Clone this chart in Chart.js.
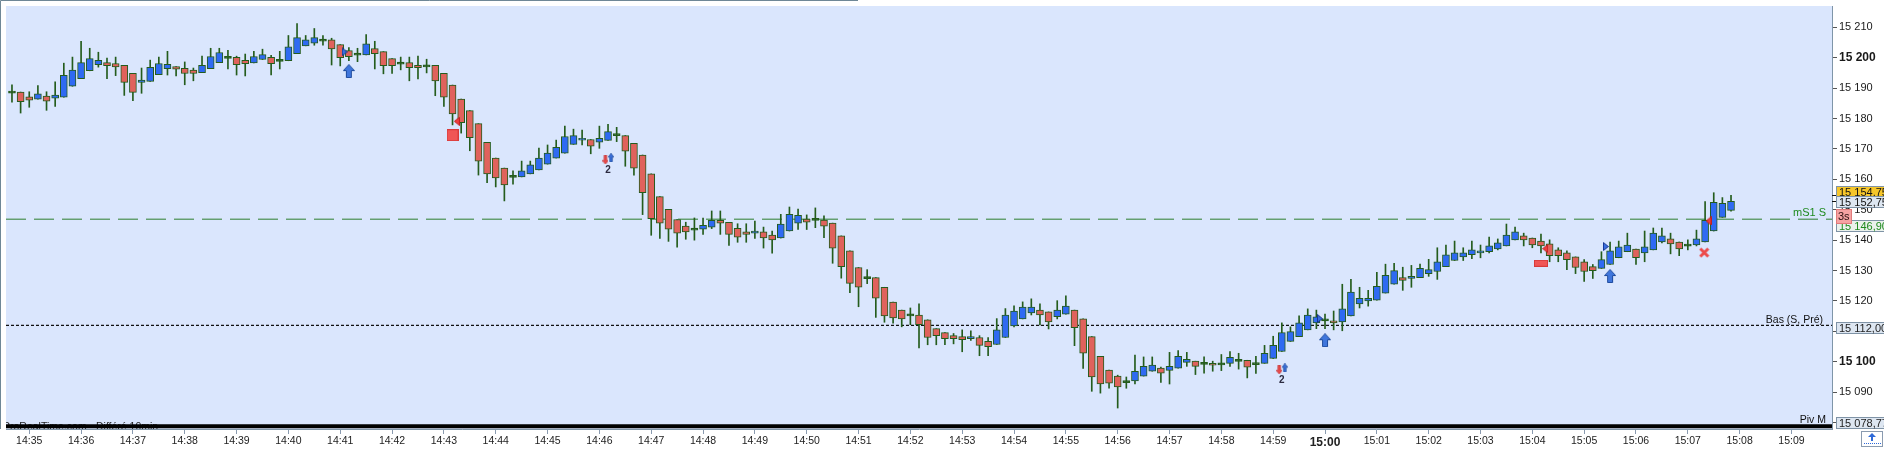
<!DOCTYPE html>
<html>
<head>
<meta charset="utf-8">
<script src="https://cdn.jsdelivr.net/npm/chart.js@4.4.1/dist/chart.umd.min.js"></script>
<style>
    html, body { margin: 0; padding: 0; background: #fff; overflow: hidden; }
    #wrap { width: 1884px; height: 449px; }
</style>
</head>
<body>
<div id="wrap"><canvas id="chart"></canvas></div>
<script>
// 10 second candles, first one at 14:34:40
const opens = [
    15188.7, 15188.7, 15187.1, 15186.4, 15187.4, 15186.7, 15187.0, 15190.6, 15193.1, 15195.7,
    15197.7, 15198.4, 15198.1, 15197.5, 15194.9, 15191.9, 15192.2, 15194.4, 15196.4, 15197.1,
    15196.5, 15195.9, 15195.1, 15196.4, 15198.4, 15200.1, 15200.1, 15199.1, 15198.3, 15199.4,
    15200.1, 15199.1, 15199.0, 15201.3, 15203.9, 15204.8, 15205.6, 15205.9, 15204.3, 15202.3,
    15200.9, 15200.9, 15203.0, 15202.0, 15199.7, 15198.2, 15198.4, 15197.5, 15197.3, 15197.5,
    15194.9, 15191.0, 15186.4, 15182.6, 15178.3, 15172.2, 15167.0, 15163.7, 15161.0, 15160.8,
    15161.8, 15163.1, 15165.0, 15167.0, 15168.6, 15171.5, 15172.9, 15173.1, 15172.2, 15172.8,
    15174.7, 15174.4, 15171.8, 15168.0, 15161.8, 15154.3, 15150.1, 15146.8, 15144.6, 15143.6,
    15143.6, 15144.3, 15146.5, 15145.9, 15143.9, 15142.7, 15142.3, 15142.7, 15141.7, 15140.7,
    15143.0, 15145.6, 15146.9, 15146.8, 15146.6, 15145.6, 15141.4, 15136.5, 15131.0, 15127.7,
    15127.7, 15124.5, 15119.6, 15117.0, 15115.4, 15115.4, 15113.8, 15110.9, 15109.6, 15108.6,
    15108.3, 15107.6, 15108.0, 15106.7, 15105.7, 15108.0, 15111.8, 15114.1, 15116.1, 15117.0,
    15116.4, 15114.8, 15115.7, 15117.0, 15114.1, 15108.3, 15101.8, 15097.3, 15095.3, 15093.5,
    15093.7, 15095.3, 15096.9, 15097.9, 15097.2, 15097.9, 15099.8, 15100.2, 15099.5, 15099.5,
    15099.3, 15099.5, 15100.5, 15100.5, 15099.4, 15099.5, 15101.1, 15103.4, 15106.7, 15108.3,
    15110.5, 15112.8, 15113.8, 15113.5, 15113.1, 15115.1, 15119.0, 15120.0, 15120.3, 15122.6,
    15125.5, 15127.7, 15127.4, 15127.7, 15129.0, 15129.7, 15131.3, 15133.3, 15134.5, 15135.2,
    15135.8, 15136.2, 15137.1, 15138.1, 15140.1, 15141.4, 15140.7, 15139.7, 15138.8, 15136.8,
    15135.8, 15134.5, 15132.9, 15131.3, 15130.7, 15132.0, 15134.2, 15136.2, 15137.1, 15135.8,
    15136.8, 15139.4, 15140.4, 15139.4, 15138.4, 15138.4, 15139.4, 15143.0, 15147.5, 15149.8
];
const highs = [
    15191.1, 15188.7, 15188.8, 15190.8, 15188.8, 15192.1, 15198.2, 15200.2, 15205.4, 15203.1,
    15201.8, 15199.9, 15200.2, 15197.5, 15194.9, 15196.6, 15199.2, 15200.2, 15202.1, 15197.1,
    15198.6, 15196.6, 15200.5, 15203.1, 15203.1, 15202.4, 15200.5, 15201.2, 15202.1, 15202.8,
    15200.8, 15202.1, 15207.3, 15211.2, 15207.3, 15209.6, 15207.3, 15206.4, 15204.3, 15203.3,
    15203.1, 15207.6, 15205.4, 15202.0, 15199.7, 15200.2, 15200.2, 15200.5, 15199.5, 15197.5,
    15194.9, 15191.0, 15186.4, 15182.6, 15178.3, 15172.2, 15167.0, 15163.7, 15162.8, 15166.0,
    15166.0, 15170.3, 15171.3, 15172.9, 15177.5, 15176.5, 15176.2, 15173.1, 15177.5, 15178.1,
    15177.1, 15174.4, 15171.8, 15168.0, 15161.8, 15154.3, 15150.1, 15146.8, 15145.9, 15147.3,
    15147.3, 15149.6, 15149.6, 15145.9, 15145.4, 15145.4, 15146.3, 15144.3, 15143.0, 15148.5,
    15150.9, 15150.2, 15148.3, 15150.6, 15148.0, 15145.6, 15141.4, 15136.5, 15131.0, 15130.3,
    15127.7, 15124.5, 15119.6, 15117.0, 15117.7, 15119.1, 15113.8, 15110.9, 15109.6, 15109.3,
    15110.5, 15110.2, 15108.6, 15108.0, 15114.2, 15117.5, 15118.4, 15119.7, 15120.7, 15119.1,
    15116.4, 15120.1, 15121.7, 15117.0, 15114.1, 15108.3, 15101.8, 15097.3, 15095.6, 15095.0,
    15102.2, 15101.6, 15101.6, 15098.3, 15103.1, 15103.7, 15103.1, 15100.2, 15101.6, 15100.2,
    15102.4, 15103.4, 15102.8, 15100.5, 15101.8, 15105.4, 15108.4, 15112.8, 15111.5, 15115.1,
    15117.4, 15117.0, 15115.7, 15116.7, 15125.5, 15127.1, 15124.5, 15123.5, 15129.4, 15132.1,
    15132.4, 15131.1, 15131.7, 15132.1, 15133.7, 15137.5, 15138.4, 15139.7, 15137.5, 15139.7,
    15138.4, 15141.0, 15140.4, 15145.3, 15144.3, 15142.3, 15140.7, 15142.0, 15140.1, 15137.5,
    15136.5, 15134.5, 15133.6, 15132.0, 15136.2, 15139.4, 15139.7, 15142.3, 15137.1, 15143.0,
    15144.0, 15144.0, 15142.3, 15139.4, 15140.1, 15143.3, 15152.7, 15155.6, 15154.0, 15154.75
];
const lows = [
    15185.4, 15181.8, 15183.7, 15186.4, 15182.7, 15184.0, 15187.0, 15190.6, 15193.1, 15195.7,
    15196.9, 15193.1, 15194.1, 15187.6, 15185.9, 15188.3, 15192.2, 15194.4, 15194.3, 15194.0,
    15191.1, 15192.4, 15195.1, 15196.4, 15198.4, 15196.3, 15194.3, 15194.0, 15198.3, 15199.4,
    15194.3, 15196.3, 15199.0, 15201.3, 15203.9, 15204.1, 15204.1, 15197.6, 15197.3, 15199.0,
    15198.7, 15200.9, 15196.3, 15194.7, 15194.8, 15196.0, 15192.4, 15193.0, 15195.0, 15187.5,
    15184.0, 15177.9, 15175.2, 15169.4, 15161.4, 15158.9, 15157.5, 15152.9, 15158.4, 15160.8,
    15161.8, 15163.1, 15165.0, 15167.0, 15168.6, 15171.5, 15171.3, 15168.4, 15170.2, 15172.8,
    15172.4, 15164.3, 15161.4, 15148.4, 15141.6, 15140.6, 15139.6, 15137.7, 15140.3, 15140.0,
    15141.9, 15143.8, 15141.9, 15138.3, 15139.3, 15139.3, 15140.6, 15137.4, 15135.7, 15140.7,
    15143.0, 15143.5, 15143.5, 15144.1, 15140.8, 15132.4, 15127.5, 15122.7, 15118.1, 15125.7,
    15114.6, 15113.0, 15112.7, 15111.5, 15112.2, 15104.6, 15105.6, 15105.6, 15105.6, 15105.9,
    15103.3, 15107.0, 15102.0, 15102.0, 15105.7, 15108.0, 15111.5, 15114.1, 15115.4, 15112.1,
    15110.8, 15114.1, 15115.7, 15105.3, 15097.8, 15090.3, 15089.7, 15091.3, 15084.8, 15091.3,
    15092.7, 15095.3, 15096.9, 15093.2, 15092.7, 15097.9, 15098.5, 15095.8, 15096.3, 15096.9,
    15097.1, 15098.5, 15097.6, 15094.7, 15096.2, 15099.5, 15101.1, 15103.4, 15106.7, 15108.3,
    15110.5, 15110.9, 15110.9, 15110.5, 15110.2, 15115.1, 15117.7, 15118.3, 15120.3, 15122.6,
    15125.5, 15123.5, 15124.5, 15127.7, 15128.1, 15127.1, 15131.3, 15133.3, 15133.3, 15133.9,
    15134.2, 15135.8, 15136.8, 15138.1, 15140.1, 15138.1, 15137.5, 15135.8, 15132.9, 15132.9,
    15130.3, 15129.0, 15126.4, 15127.4, 15130.7, 15132.0, 15134.2, 15136.2, 15132.0, 15132.9,
    15136.8, 15139.1, 15135.5, 15134.9, 15136.8, 15138.1, 15139.4, 15143.0, 15147.5, 15149.5
];
const closes = [
    15188.7, 15185.5, 15186.0, 15188.1, 15185.7, 15187.7, 15194.2, 15195.9, 15198.4, 15199.7,
    15199.1, 15197.4, 15197.0, 15191.9, 15188.6, 15192.6, 15196.8, 15198.1, 15197.8, 15196.2,
    15194.8, 15194.8, 15197.5, 15200.4, 15201.7, 15200.1, 15197.7, 15198.0, 15200.4, 15201.0,
    15198.0, 15199.1, 15203.6, 15206.6, 15205.9, 15206.6, 15205.9, 15202.9, 15200.0, 15200.3,
    15201.4, 15204.6, 15201.3, 15197.4, 15197.4, 15198.2, 15196.7, 15196.7, 15197.3, 15192.4,
    15187.0, 15181.5, 15178.6, 15173.7, 15166.0, 15161.8, 15160.5, 15158.2, 15161.0, 15162.8,
    15164.8, 15167.0, 15168.6, 15170.5, 15174.1, 15174.4, 15173.5, 15170.9, 15173.5, 15175.7,
    15174.7, 15169.3, 15163.7, 15155.6, 15147.1, 15145.6, 15143.6, 15142.3, 15142.7, 15143.6,
    15144.9, 15146.5, 15145.6, 15141.9, 15141.0, 15141.9, 15143.0, 15140.7, 15140.1, 15145.3,
    15148.5, 15148.2, 15145.9, 15146.8, 15144.6, 15137.4, 15131.3, 15125.8, 15124.5, 15127.7,
    15120.9, 15115.1, 15114.4, 15114.1, 15115.4, 15112.2, 15108.0, 15108.6, 15107.6, 15107.6,
    15107.3, 15108.3, 15105.4, 15105.0, 15110.5, 15115.4, 15116.7, 15118.0, 15118.0, 15115.4,
    15113.1, 15117.0, 15118.3, 15111.2, 15102.8, 15095.0, 15092.7, 15093.0, 15091.7, 15093.5,
    15096.9, 15098.5, 15098.9, 15096.3, 15098.5, 15101.8, 15100.8, 15098.5, 15099.5, 15098.9,
    15099.3, 15101.5, 15100.5, 15098.2, 15099.4, 15102.8, 15105.4, 15109.6, 15109.9, 15112.8,
    15115.4, 15114.8, 15113.8, 15112.8, 15117.4, 15122.9, 15120.9, 15120.9, 15124.8, 15128.4,
    15130.0, 15126.8, 15128.1, 15130.7, 15130.3, 15132.9, 15135.2, 15135.8, 15135.8, 15136.8,
    15136.5, 15138.1, 15139.1, 15141.7, 15142.7, 15140.1, 15138.4, 15138.1, 15134.9, 15134.9,
    15133.6, 15131.0, 15129.7, 15130.0, 15133.6, 15136.5, 15137.8, 15138.4, 15134.2, 15137.8,
    15142.3, 15141.4, 15138.8, 15137.1, 15138.4, 15140.4, 15146.5, 15152.4, 15152.1, 15152.75
];

const tickLabels = [
    '14:35', '14:36', '14:37', '14:38', '14:39', '14:40', '14:41', '14:42', '14:43', '14:44',
    '14:45', '14:46', '14:47', '14:48', '14:49', '14:50', '14:51', '14:52', '14:53', '14:54',
    '14:55', '14:56', '14:57', '14:58', '14:59', '15:00', '15:01', '15:02', '15:03', '15:04',
    '15:05', '15:06', '15:07', '15:08', '15:09'
];
const firstTickIndex = 2;      // candle of 14:35:00
const candlesPerMinute = 6;

// horizontal levels
const levelNames = ['mS1 S', 'Bas (S, Pré)', 'Piv M'];
const levelValues = [15146.90, 15112.00, 15078.77];

// right axis price tags
const tagTexts = ['15 154,75', '15 152,75', '15 146,90', '15 112,00', '15 078,77'];
const tagValues = [15154.75, 15152.75, 15146.90, 15112.00, 15078.77];

// signals (candle index, price)
const bigUpArrows = [{x: 39.0, y: 15195.6}, {x: 152.0, y: 15107.1}, {x: 185.0, y: 15128.2}];
const smallDownArrows = [{x: 68.7, y: 15166.4}, {x: 146.7, y: 15097.4}];
const smallUpArrows = [{x: 69.35, y: 15167.1}, {x: 147.35, y: 15098.0}];
const countMarks = [{x: 69.0, y: 15162.9}, {x: 147.0, y: 15093.8}];
const rightTriangles = [{x: 38.5, y: 15201.9}, {x: 151.4, y: 15114.2}, {x: 184.5, y: 15137.9}];
const leftTriangles = [{x: 51.5, y: 15179.1}, {x: 177.5, y: 15137.2}, {x: 196.4, y: 15146.3}];
const exitSquares = [{x: 51.0, y: 15174.5}];
const exitBars = [{x: 177.0, y: 15132.4}];
const exitCrosses = [{x: 195.9, y: 15135.9}];

const xMin = -0.692;
const xMax = 210.69;
const yMin = 15077.9;
const yMax = 15217.0;

const UP = '#2f6af2';
const DOWN = '#e0625c';
const EDGE = '#245c1c';
const FONT = '"Liberation Sans", Arial, Helvetica, sans-serif';

Chart.defaults.font.family = FONT;

function fmtPrice(v) {
    const s = String(Math.round(v));
    return s.slice(0, 2) + ' ' + s.slice(2);
}

function icon(w, h, draw) {
    const c = document.createElement('canvas');
    c.width = w;
    c.height = h;
    draw(c.getContext('2d'));
    return c;
}

const bigUpIcon = icon(12, 14, g => {
    g.beginPath();
    g.moveTo(6, 0.5); g.lineTo(11.5, 6.5); g.lineTo(8.5, 6.5); g.lineTo(8.5, 13.5);
    g.lineTo(3.5, 13.5); g.lineTo(3.5, 6.5); g.lineTo(0.5, 6.5); g.closePath();
    g.fillStyle = '#3f76dc'; g.fill();
    g.strokeStyle = '#1d4a9c'; g.lineWidth = 1; g.stroke();
});
const smallUpIcon = icon(6, 9, g => {
    g.beginPath();
    g.moveTo(3, 0.3); g.lineTo(5.8, 3.8); g.lineTo(4.2, 3.8); g.lineTo(4.2, 8.7);
    g.lineTo(1.8, 8.7); g.lineTo(1.8, 3.8); g.lineTo(0.2, 3.8); g.closePath();
    g.fillStyle = '#3a70dc'; g.fill();
    g.strokeStyle = '#1d4a9c'; g.lineWidth = 0.8; g.stroke();
});
const smallDownIcon = icon(6, 9, g => {
    g.beginPath();
    g.moveTo(3, 8.7); g.lineTo(5.8, 5.2); g.lineTo(4.2, 5.2); g.lineTo(4.2, 0.3);
    g.lineTo(1.8, 0.3); g.lineTo(1.8, 5.2); g.lineTo(0.2, 5.2); g.closePath();
    g.fillStyle = '#ec4b4b'; g.fill();
    g.strokeStyle = '#c42c2c'; g.lineWidth = 0.8; g.stroke();
});
const rightTriIcon = icon(6, 9, g => {
    g.beginPath();
    g.moveTo(0.5, 0.5); g.lineTo(5.5, 4.5); g.lineTo(0.5, 8.5); g.closePath();
    g.fillStyle = '#3a6fe0'; g.fill();
    g.strokeStyle = '#102f8a'; g.lineWidth = 1; g.stroke();
});
const leftTriIcon = icon(6, 9, g => {
    g.beginPath();
    g.moveTo(5.5, 0.5); g.lineTo(0.5, 4.5); g.lineTo(5.5, 8.5); g.closePath();
    g.fillStyle = '#f03c3c'; g.fill();
    g.strokeStyle = '#c02020'; g.lineWidth = 1; g.stroke();
});
const squareIcon = icon(12, 12, g => {
    g.fillStyle = '#f05656'; g.fillRect(0.5, 0.5, 11, 11);
    g.strokeStyle = '#d83a3a'; g.lineWidth = 1; g.strokeRect(0.5, 0.5, 11, 11);
});
const barIcon = icon(14, 7, g => {
    g.fillStyle = '#f05656'; g.fillRect(0.5, 0.5, 13, 6);
    g.strokeStyle = '#d83a3a'; g.lineWidth = 1; g.strokeRect(0.5, 0.5, 13, 6);
});
const crossIcon = icon(11, 11, g => {
    g.strokeStyle = '#ec4a4a'; g.lineWidth = 3;
    g.beginPath();
    g.moveTo(1.5, 1.5); g.lineTo(9.5, 9.5);
    g.moveTo(9.5, 1.5); g.lineTo(1.5, 9.5);
    g.stroke();
});

const wickData = highs.map((h, i) => ({x: i, y: [lows[i], h]}));
const bodyData = opens.map((o, i) => {
    const c = closes[i];
    if (Math.abs(o - c) < 0.55) {
        const m = (o + c) / 2;
        return {x: i, y: [m - 0.35, m + 0.35]};
    }
    return {x: i, y: [Math.min(o, c), Math.max(o, c)]};
});
const bodyColors = opens.map((o, i) => {
    const c = closes[i];
    if (Math.abs(o - c) < 0.55) return EDGE;
    return c > o ? UP : DOWN;
});

function levelLine(v, color, width, dash) {
    return {
        type: 'line',
        data: [{x: xMin, y: v}, {x: xMax, y: v}],
        borderColor: color,
        borderWidth: width,
        borderDash: dash,
        pointRadius: 0,
        order: 5
    };
}

function markerSet(points, img) {
    return {
        type: 'line',
        data: points,
        showLine: false,
        pointStyle: img,
        pointRadius: 5,
        order: 0
    };
}

const decor = {
    id: 'decor',
    beforeDraw(chart) {
        const {ctx, chartArea: a} = chart;
        ctx.save();
        ctx.fillStyle = '#ffffff';
        ctx.fillRect(0, 0, chart.width, chart.height);
        ctx.fillStyle = '#dae6fd';
        ctx.fillRect(a.left, a.top, a.right - a.left, a.bottom - a.top);
        ctx.restore();
    },
    beforeDatasetsDraw(chart) {
        const {ctx, chartArea: a} = chart;
        ctx.save();
        ctx.beginPath();
        ctx.rect(a.left, a.top, a.right - a.left, a.bottom - a.top);
        ctx.clip();
        ctx.font = '10.5px ' + FONT;
        ctx.fillStyle = '#1e1e1e';
        ctx.textBaseline = 'alphabetic';
        ctx.fillText('ProRealTime.com - Différé 10min', 3, 430);
        ctx.restore();
    },
    afterDatasetsDraw(chart) {
        const {ctx, chartArea: a, scales: {x, y}} = chart;
        ctx.save();
        ctx.textAlign = 'right';
        ctx.textBaseline = 'alphabetic';
        ctx.font = '11px ' + FONT;
        ctx.fillStyle = '#1f8a1f';
        ctx.fillText(levelNames[0], a.right - 6, y.getPixelForValue(levelValues[0]) - 3);
        ctx.fillStyle = '#111';
        ctx.font = '10.5px ' + FONT;
        ctx.fillText(levelNames[1], a.right - 9, y.getPixelForValue(levelValues[1]) - 2);
        ctx.fillText(levelNames[2], a.right - 6, y.getPixelForValue(levelValues[2]) - 3);

        ctx.textAlign = 'center';
        ctx.textBaseline = 'middle';
        ctx.font = 'bold 10px ' + FONT;
        ctx.fillStyle = '#2b2b40';
        for (const m of countMarks) {
            ctx.fillText('2', x.getPixelForValue(m.x), y.getPixelForValue(m.y));
        }
        ctx.restore();
    },
    afterDraw(chart) {
        const {ctx, chartArea: a, scales: {y}} = chart;
        ctx.save();
        // frame
        ctx.strokeStyle = '#6e8796';
        ctx.lineWidth = 1;
        ctx.beginPath();
        ctx.moveTo(0.5, a.bottom);
        ctx.lineTo(0.5, 0.5);
        ctx.lineTo(858, 0.5);
        ctx.stroke();

        // small marks of the last candle
        ctx.strokeStyle = '#111';
        ctx.beginPath();
        for (const v of tagValues.slice(0, 2)) {
            const py = Math.round(y.getPixelForValue(v)) + 0.5;
            ctx.moveTo(a.right, py);
            ctx.lineTo(a.right + 8, py);
        }
        ctx.stroke();

        const styles = [
            {bg: '#f6c62a', fg: '#111', dy: -4.3},
            {bg: '#dde6f1', fg: '#111', dy: 0.5},
            {bg: '#eaf1ec', fg: '#1d8a1d', dy: 6},
            {bg: '#dde6f1', fg: '#222', dy: 2},
            {bg: '#dde6f1', fg: '#222', dy: -3.5}
        ];
        ctx.font = '11px ' + FONT;
        ctx.textAlign = 'left';
        ctx.textBaseline = 'middle';
        tagValues.forEach((v, i) => {
            const s = styles[i];
            const cy = y.getPixelForValue(v) + s.dy;
            const top = Math.round(cy - 5.5) + 0.5;
            ctx.fillStyle = s.bg;
            ctx.fillRect(a.right + 4.5, top, 70, 11);
            ctx.strokeStyle = '#7f93a6';
            ctx.strokeRect(a.right + 4.5, top, 70, 11);
            ctx.fillStyle = s.fg;
            ctx.fillText(tagTexts[i], a.right + 7, top + 6);
        });

        // countdown box
        const ty = y.getPixelForValue(15147.9);
        ctx.fillStyle = '#f5a3a3';
        ctx.fillRect(a.right + 4.5, Math.round(ty - 7) + 0.5, 15, 14);
        ctx.strokeStyle = '#e07a7a';
        ctx.strokeRect(a.right + 4.5, Math.round(ty - 7) + 0.5, 15, 14);
        ctx.fillStyle = '#2a1010';
        ctx.fillText('3s', a.right + 6, Math.round(ty) + 1);

        // corner button
        ctx.strokeStyle = '#8a9bb0';
        ctx.strokeRect(1861.5, 431.5, 21, 15);
        ctx.fillStyle = '#2f6ad8';
        ctx.beginPath();
        ctx.moveTo(1872, 433); ctx.lineTo(1876, 437); ctx.lineTo(1868, 437); ctx.closePath();
        ctx.fill();
        ctx.fillRect(1871, 437, 2, 4);
        for (let px = 1864; px < 1881; px += 2) ctx.fillRect(px, 443, 1, 1);
        ctx.restore();
    }
};

new Chart(document.getElementById('chart'), {
    type: 'bar',
    data: {
        datasets: [
            levelLine(levelValues[0], '#2b7d2b', 1, [20, 8]),
            levelLine(levelValues[1], '#111111', 1.2, [3, 2]),
            levelLine(levelValues[2], '#000000', 4, []),
            {
                data: wickData,
                backgroundColor: EDGE,
                barThickness: 1,
                grouped: false,
                order: 2
            },
            {
                data: bodyData,
                backgroundColor: bodyColors,
                borderColor: EDGE,
                borderWidth: 1,
                borderSkipped: false,
                barThickness: 7,
                grouped: false,
                order: 1
            },
            markerSet(bigUpArrows, bigUpIcon),
            markerSet(smallDownArrows, smallDownIcon),
            markerSet(smallUpArrows, smallUpIcon),
            markerSet(rightTriangles, rightTriIcon),
            markerSet(leftTriangles, leftTriIcon),
            markerSet(exitSquares, squareIcon),
            markerSet(exitBars, barIcon),
            markerSet(exitCrosses, crossIcon)
        ]
    },
    options: {
        responsive: true,
        maintainAspectRatio: false,
        animation: false,
        layout: {padding: 0},
        plugins: {
            legend: {display: false},
            tooltip: {enabled: false}
        },
        scales: {
            x: {
                type: 'linear',
                min: xMin,
                max: xMax,
                offset: false,
                afterBuildTicks: scale => {
                    scale.ticks = tickLabels.map((t, k) => ({value: firstTickIndex + k * candlesPerMinute}));
                },
                afterFit: scale => {
                    scale.height = 20;
                    scale.paddingLeft = 0;
                    scale.paddingRight = 0;
                },
                ticks: {
                    autoSkip: false,
                    maxRotation: 0,
                    padding: 1,
                    color: '#222',
                    font: ctx => tickLabels[ctx.index] === '15:00'
                        ? {size: 12, weight: 'bold'}
                        : {size: 10.5},
                    callback: (v, i) => tickLabels[i]
                },
                grid: {drawOnChartArea: false, offset: false, tickLength: 5, color: '#8a9bb0'},
                border: {display: true, color: '#7f95a8'}
            },
            y: {
                position: 'right',
                min: yMin,
                max: yMax,
                afterFit: scale => {
                    scale.width = 52;
                    scale.paddingTop = 0;
                    scale.paddingBottom = 0;
                },
                ticks: {
                    stepSize: 10,
                    includeBounds: false,
                    padding: 2,
                    color: '#1a1a1a',
                    font: ctx => ctx.tick && ctx.tick.value % 100 === 0
                        ? {size: 12, weight: 'bold'}
                        : {size: 11},
                    callback: v => fmtPrice(v)
                },
                grid: {drawOnChartArea: false, tickLength: 5, color: '#555'},
                border: {display: true, color: '#7f95a8'}
            }
        }
    },
    plugins: [decor]
});
</script>
</body>
</html>
